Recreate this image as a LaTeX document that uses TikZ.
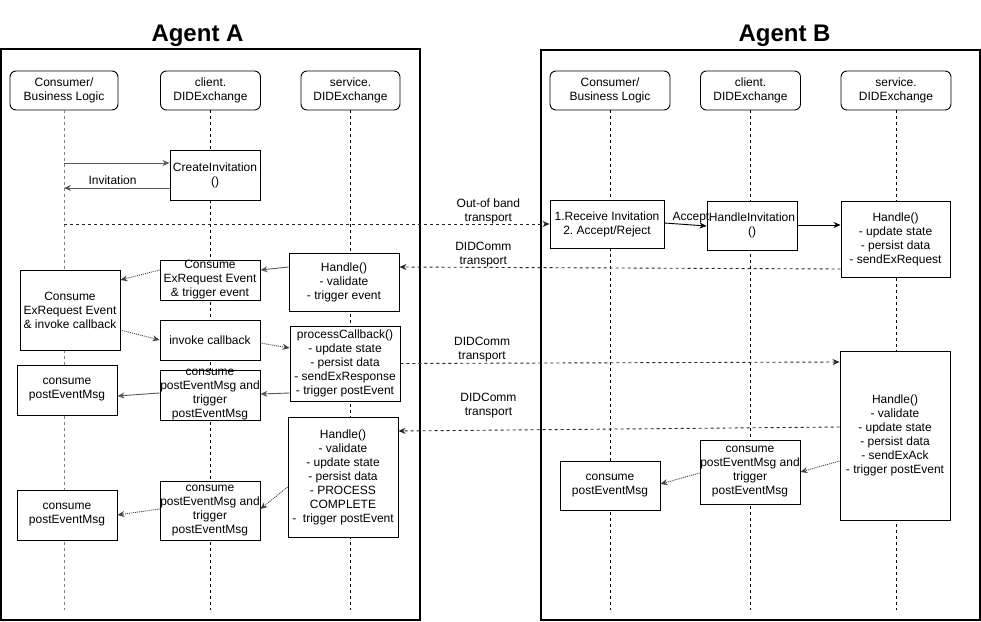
\documentclass[tikz,border=0pt]{standalone}
\usepackage{fontspec}
\setmainfont{Liberation Sans}
\usetikzlibrary{arrows.meta}
\frenchspacing

\begin{document}
\begin{tikzpicture}[x=1pt, y=-1pt, >={Stealth[length=7pt,width=6pt]}, font=\fontsize{12}{14}\selectfont]
    \tikzstyle{agentframe}=[draw=black, line width=1.4pt]
    \tikzstyle{agenttitle}=[font=\fontsize{24}{28}\selectfont\bfseries, anchor=base, inner sep=0pt]
    \tikzstyle{lifehead}=[draw=black, line width=0.9pt, rounded corners=6pt, fill=white, align=center, minimum height=39pt, inner sep=0pt]
    \tikzstyle{lifeline}=[draw=black, line width=0.9pt, dash pattern=on 3pt off 3pt]
    \tikzstyle{actbox}=[draw=black, line width=0.9pt, fill=white, align=center, inner sep=0pt]
    \tikzstyle{boxtext}=[align=center, inner sep=0pt]
    \tikzstyle{msgarrow}=[->, draw=black!65, line width=0.9pt]
    \tikzstyle{callarrow}=[->, draw=black, line width=0.9pt]
    \tikzstyle{netarrow}=[->, draw=black!85, line width=0.9pt, dash pattern=on 3pt off 3pt]
    \tikzstyle{evtarrow}=[->, draw=black!75, line width=0.9pt, dash pattern=on 1pt off 1pt]
    \tikzstyle{edgelabel}=[anchor=south, inner sep=0pt, align=center]

    \useasboundingbox (0,0) rectangle (981,621);

    % agents
    \draw[agentframe] (1,49) rectangle (420,620);
    \draw[agentframe] (541,50) rectangle (980,620);
    \node[agenttitle] (TA) at (197.5,41) {Agent A};
    \node[agenttitle] (TB) at (784.5,41) {Agent B};

    % lifeline heads
    \node[lifehead, minimum width=108pt] (CA) at (64,90.5) {Consumer/\\Business Logic};
    \node[lifehead, minimum width=100pt] (CLA) at (210.5,90.5) {client.\\DIDExchange};
    \node[lifehead, minimum width=99pt] (SA) at (350.5,90.5) {service.\\DIDExchange};
    \node[lifehead, minimum width=120pt] (CB) at (610,90.5) {Consumer/\\Business Logic};
    \node[lifehead, minimum width=100pt] (CLB) at (750.5,90.5) {client.\\DIDExchange};
    \node[lifehead, minimum width=110pt] (SB) at (896,90.5) {service.\\DIDExchange};

    \coordinate (CA-end) at (64,610);
    \coordinate (CLA-end) at (210.5,610);
    \coordinate (SA-end) at (350.5,610);
    \coordinate (CB-end) at (610,610);
    \coordinate (CLB-end) at (750.5,610);
    \coordinate (SB-end) at (896,610);
    \draw[lifeline, draw=black!50] (CA.south) -- (CA-end);
    \draw[lifeline] (CLA.south) -- (CLA-end);
    \draw[lifeline] (SA.south) -- (SA-end);
    \draw[lifeline] (CB.south) -- (CB-end);
    \draw[lifeline] (CLB.south) -- (CLB-end);
    \draw[lifeline] (SB.south) -- (SB-end);

    % agent A
    \node[actbox, minimum width=90pt, minimum height=50pt] (CI) at (215,175) {CreateInvitation\\()};
    \node[actbox, minimum width=100pt, minimum height=80pt] (AC1) at (70,310) {Consume\\ExRequest Event\\\& invoke callback};
    \node[actbox, minimum width=100pt, minimum height=40pt] (AE1) at (210,280) {Consume\\ExRequest Event\\\& trigger event};
    \node[actbox, minimum width=110pt, minimum height=58pt] (AH1) at (344,282) {Handle()\\- validate\\- trigger event};
    \node[actbox, minimum width=100pt, minimum height=40pt] (AI) at (210,340) {invoke callback};
    \node[actbox, minimum width=110pt, minimum height=75pt] (AP) at (345,363.5) {processCallback()\\- update state\\- persist data\\- sendExResponse\\- trigger postEvent};
    \node[actbox, minimum width=100pt, minimum height=50pt, label={[boxtext]center:{consume\\postEventMsg and\\trigger\\postEventMsg}}] (AE2) at (210,395) {};
    \node[actbox, minimum width=100pt, minimum height=50pt] (AC2) at (67,390) {consume\\postEventMsg};
    \node[actbox, minimum width=110pt, minimum height=120pt] (AH2) at (343,477) {Handle()\\- validate\\- update state\\- persist data\\- PROCESS\\COMPLETE\\- \ trigger postEvent};
    \node[actbox, minimum width=100pt, minimum height=59pt, label={[boxtext]center:{consume\\postEventMsg and\\trigger\\postEventMsg}}] (AE3) at (210,510.5) {};
    \node[actbox, minimum width=100pt, minimum height=50pt] (AC3) at (67,515) {consume\\postEventMsg};

    % agent B
    \node[actbox, minimum width=114pt, minimum height=48pt] (BR) at (607,224) {1.Receive Invitation\\2. Accept/Reject};
    \node[actbox, minimum width=90pt, minimum height=49pt] (BHI) at (752,225.5) {HandleInvitation\\()};
    \node[actbox, minimum width=109pt, minimum height=76pt] (BH1) at (895.5,239) {Handle()\\- update state\\- persist data\\- sendExRequest};
    \node[actbox, minimum width=110pt, minimum height=169pt] (BH2) at (895,435.5) {Handle()\\- validate\\- update state\\- persist data\\- sendExAck\\- trigger postEvent};
    \node[actbox, minimum width=100pt, minimum height=64pt, label={[boxtext]center:{consume\\postEventMsg and\\trigger\\postEventMsg}}] (BE) at (750,472) {};
    \node[actbox, minimum width=100pt, minimum height=49pt] (BC) at (610,485.5) {consume\\postEventMsg};

    % messages
    \coordinate (inv-a) at (64,163);
    \coordinate (inv-b) at (64,188);
    \coordinate (oob) at (64,224);
    \draw[msgarrow] (inv-a) -- (inv-a -| CI.west);
    \draw[msgarrow] (inv-b -| CI.west) -- node[edgelabel, pos=0.54, yshift=3pt] (L-inv) {Invitation} (inv-b);
    \draw[netarrow] (oob) -- node[edgelabel, pos=0.874] (L-oob) {Out-of band\\transport} (oob -| BR.west);
    \draw[callarrow] ([yshift=1pt]BR.east) -- node[edgelabel, pos=0.63, yshift=1.5pt] (L-acc) {Accept} ([yshift=-0.5pt]BHI.west);
    \draw[callarrow] ([yshift=0.5pt]BHI.east) -- ([yshift=14pt]BH1.west);
    \draw[netarrow] ([yshift=-30pt]BH1.west) -- node[edgelabel, pos=0.81] (L-net1) {DIDComm\\transport} ([yshift=15pt]AH1.east);
    \draw[msgarrow] ([yshift=15pt]AH1.west) -- ([yshift=10pt]AE1.east);
    \draw[evtarrow] ([yshift=10pt]AE1.west) -- ([yshift=30pt]AC1.east);
    \draw[evtarrow] ([yshift=-20pt]AC1.east) -- (AI.west);
    \draw[evtarrow] ([yshift=-3pt]AI.east) -- ([yshift=15.5pt]AP.west);
    \draw[netarrow] (AP.east) -- node[edgelabel, pos=0.186, yshift=1pt] (L-net2) {DIDComm\\transport} ([yshift=73.5pt]BH2.west);
    \draw[msgarrow] ([yshift=-29.5pt]AP.west) -- ([yshift=1pt]AE2.east);
    \draw[msgarrow] ([yshift=2pt]AE2.west) -- ([yshift=-6pt]AC2.east);
    \draw[netarrow] ([yshift=8.5pt]BH2.west) -- node[edgelabel, pos=0.796, yshift=12pt] (L-net3) {DIDComm\\transport} ([yshift=46pt]AH2.east);
    \draw[evtarrow] ([yshift=-10pt]AH2.west) -- ([yshift=1.5pt]AE3.east);
    \draw[evtarrow] ([yshift=1.5pt]AE3.west) -- (AC3.east);
    \draw[evtarrow] ([yshift=-25.5pt]BH2.west) -- (BE.east);
    \draw[evtarrow] ([yshift=-1pt]BE.west) -- ([yshift=1.5pt]BC.east);
\end{tikzpicture}
\end{document}
